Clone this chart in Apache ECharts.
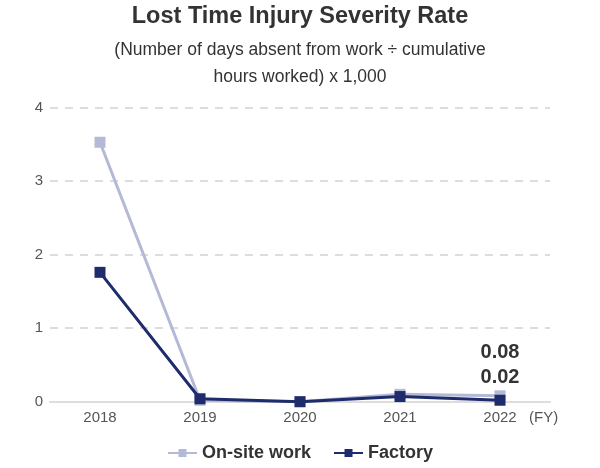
<!DOCTYPE html>
<html>
<head>
<meta charset="utf-8">
<script src="https://cdn.jsdelivr.net/npm/echarts@6/dist/echarts.min.js"></script>
<style>html,body{margin:0;padding:0;background:#fff}#c{width:600px;height:468px}</style>
</head>
<body>
<div id="c"></div>
<script>
var categories = ['2018', '2019', '2020', '2021', '2022'];
var onSite = [3.53, 0.02, 0.00, 0.10, 0.08];
var factory = [1.76, 0.04, 0.00, 0.07, 0.02];
var yTicks = [0, 1, 2, 3, 4];
var titleText = 'Lost Time Injury Severity Rate';
var subText = '(Number of days absent from work \u00f7 cumulative\nhours worked) x 1,000';

var FONT = '"Liberation Sans", Arial, sans-serif';
var chart = echarts.init(document.getElementById('c'), null, {renderer: 'canvas'});

function withLastLabel(arr, dy) {
  return arr.map(function (v, i) {
    if (i === arr.length - 1) {
      return {value: v, label: {show: true, position: 'inside', offset: [0, dy], formatter: '{c}',
        color: '#333', fontSize: 20, fontWeight: 'bold', fontFamily: FONT}};
    }
    return v;
  });
}

chart.setOption({
  animation: false,
  textStyle: {fontFamily: FONT},
  title: {
    text: titleText,
    subtext: subText,
    left: 'center',
    top: 0,
    itemGap: 8,
    textStyle: {fontSize: 23.5, fontWeight: 'bold', color: '#333', fontFamily: FONT},
    subtextStyle: {fontSize: 17.5, color: '#333', lineHeight: 27, fontFamily: FONT}
  },
  legend: {
    bottom: 1,
    left: 'center',
    itemWidth: 29,
    itemHeight: 10,
    itemGap: 22,
    textStyle: {fontSize: 18, fontWeight: 'bold', color: '#333', fontFamily: FONT},
    data: ['On-site work', 'Factory']
  },
  grid: {left: 50, right: 50, top: 107.7, bottom: 66.3},
  xAxis: {
    type: 'category',
    data: categories,
    boundaryGap: true,
    name: '(FY)',
    nameLocation: 'end',
    nameGap: -21,
    nameTextStyle: {fontSize: 15, color: '#555', align: 'left', verticalAlign: 'top', padding: [9, 0, 0, 0], fontFamily: FONT},
    axisLine: {lineStyle: {color: '#ddd', width: 2}},
    axisTick: {show: false},
    axisLabel: {fontSize: 15, color: '#555', margin: 9, fontFamily: FONT}
  },
  yAxis: {
    type: 'value',
    min: yTicks[0],
    max: yTicks[yTicks.length - 1],
    interval: 1,
    axisLine: {show: false},
    axisTick: {show: false},
    axisLabel: {fontSize: 15, color: '#555', margin: 7, fontFamily: FONT},
    splitLine: {lineStyle: {color: '#ddd', width: 2, type: [8, 7]}}
  },
  series: [
    {
      name: 'On-site work',
      type: 'line',
      data: withLastLabel(onSite, -43.5),
      symbol: 'rect',
      symbolSize: 11,
      itemStyle: {color: '#b4b9d6'},
      lineStyle: {color: '#b4b9d6', width: 3},
      z: 2
    },
    {
      name: 'Factory',
      type: 'line',
      data: withLastLabel(factory, -23),
      symbol: 'rect',
      symbolSize: 11,
      itemStyle: {color: '#1e2c6c'},
      lineStyle: {color: '#1e2c6c', width: 3},
      z: 3
    }
  ]
});
</script>
</body>
</html>
